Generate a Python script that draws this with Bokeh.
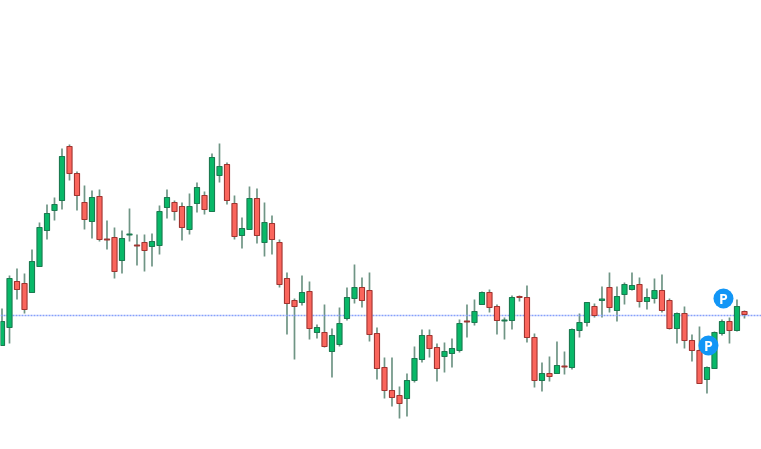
from bokeh.plotting import figure
from bokeh.models import Range1d, ColumnDataSource
from bokeh.core.properties import value
from bokeh.embed import file_html
from bokeh.resources import INLINE

open_ = [104,122,168,166,157,183,219,239,249,303,276,247,228,253,210.5,212,189,214.5,204.5,207,
         203,204,242,247,243,220,246,254,238,274,285,246,214,220,251,207,226,207,171,149,
         147,158,117,117,98,105,131,151,162,159,116,82,59,54,51,69,90,114,102,93,
         96,99,128.5,127,145,157,143,128.5,129,153,152,112,69,76,76,83.5,82,119,127,143,
         149,162,139,155,160,165,148,151,159,149,121,136,109,99,70,81,116,128,119,138]
close = [128,171,160,140,188,222,236,245,293,276,254,230,252,210,209.5,178,211,215.5,203.5,199,
         208,238,252,238,222,243,262,240,292,283,249,213,221,251,214,227,210,165,146,143,
         157,121,122,103,114,126,152,162,149,115,81,59,52,46,69,91,114,101,81,98,
         101,126,127.5,138,157,142,129,129.5,152,152,112,69,76,73,84,82.5,120,127,147,134,
         150.5,142,153,165,164,148,152,159,139,121,136,109,99,66,82,117,128,119,143,135]
high = [141,174,181,176,200,227,245,252,301,305,278,264,259,260,229,222,219,241,215,215,
        216,244,260,249,247,256,267,258,296,306,287,254,232,263,261,247,234,210,177,151,
        174,168,125,145,121,142,162,185,172,177,122,92,92,63,76,103,120,120,106,107,
        111,130,145,150,158,160,145,132,154,154,164,116,87,93,108,98,121,136,147,146,
        163,177,163,167,177,172,161,171,175,151,137,143,115,123,83,118,130,132,150,139]
low = [104,106,150,136,157,183,210,229,240,269,239,220,211,208,200,171,176,208,184,178,
       183,195,231,229,209,215,237,235,238,267,245,210,201,220,206,193,195,162,115,90,
       144,110,111,102,72,103,129,146,142,108,70,51,43,31,33,67,87,92,68,77,
       82,97,112,124,145,137,115,110,120,148,107,62,58,68,76,75,80,112,123,132,
       132,137,128,145,159,142,140,146,137,120,106,101,88,66,56,81,114,106,118,131]
reference_level = 134
pin_x = [94.2, 96.2]
pin_y = [104, 151]
pin_label = ["P", "P"]

UP, UP_EDGE = "#08b868", "#1b7a50"
DOWN, DOWN_EDGE = "#fa655c", "#a03430"
WICK = "#6f9585"
PIN = "#1296f6"
LEVEL = "#86a0fa"

idx = list(range(len(open_)))
src = ColumnDataSource(dict(
    x=idx, high=high, low=low,
    top=[max(o, c) for o, c in zip(open_, close)],
    bottom=[min(o, c) for o, c in zip(open_, close)],
    fill=[UP if c >= o else DOWN for o, c in zip(open_, close)],
    edge=[UP_EDGE if c >= o else DOWN_EDGE for o, c in zip(open_, close)],
))

p = figure(width=761, height=449, output_backend="svg", toolbar_location=None,
           x_range=Range1d(-0.2, 101.27), y_range=Range1d(0, 449),
           min_border=0, min_border_left=0, min_border_right=0, min_border_top=0, min_border_bottom=0,
           background_fill_color="white", border_fill_color="white",
           outline_line_color=None,
           styles={"position": "absolute", "left": "0px", "top": "0px", "filter": "blur(0.45px)"})
p.axis.visible = False
p.grid.visible = False

p.segment("x", "high", "x", "low", source=src, line_color=WICK, line_width=1.7)
p.line([-0.2, 101.27], [reference_level, reference_level],
       line_color=LEVEL, line_width=1.5, line_dash="2 1")
p.vbar(x="x", width=0.68, top="top", bottom="bottom", source=src,
       fill_color="fill", line_color="edge", line_width=1.1)
p.scatter(pin_x, pin_y, size=20, fill_color=PIN, line_color=PIN, line_width=0)
p.text(pin_x, pin_y, text=pin_label, text_color="white", text_align="center", text_baseline="middle",
       text_font=value("Open Sans"), text_font_style="bold", text_font_size="14px")

open("out.html", "w").write(file_html(p, INLINE))
